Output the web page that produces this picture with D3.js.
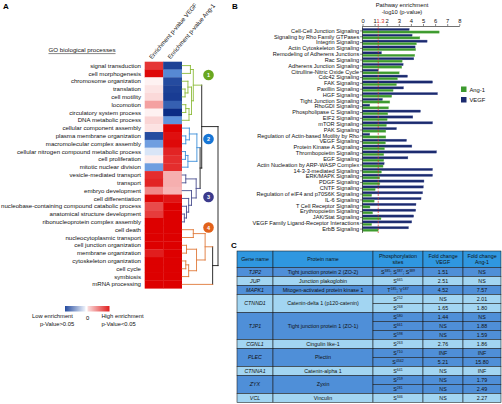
<!DOCTYPE html>
<html><head><meta charset="utf-8">
<script src="https://cdn.jsdelivr.net/npm/d3@7/dist/d3.min.js"></script>
<style>body{margin:0;background:#fff}svg{display:block;font-family:"Liberation Sans",Arial,sans-serif}</style>
</head><body><svg id="c" width="502" height="404"></svg>
<script>
// ---------- Panel A data ----------
const goTerms = ["signal transduction","cell morphogenesis","chromosome organization","translation","cell motility","locomotion","circulatory system process","DNA metabolic process","cellular component assembly","plasma membrane organization","macromolecular complex assembly","cellular nitrogen compound metabolic process","cell proliferation","mitotic nuclear division","vesicle-mediated transport","transport","embryo development","cell differentiation","nucleobase-containing compound catabolic process","anatomical structure development","ribonucleoprotein complex assembly","cell death","nucleocytoplasmic transport","cell junction organization","membrane organization","cytoskeleton organization","cell cycle","symbiosis","mRNA processing"];
const vegfEnrich = [0.82,0.97,0.06,0.13,0.18,0.45,0.06,0.2,0.14,-0.85,-0.45,-0.12,0.09,-0.45,0.85,0.88,0.55,0.98,0.75,0.8,1,1,1,1,0.9,1,1,1,1];
const ang1Enrich = [-0.9,-0.55,-0.85,-0.9,-0.92,-0.75,-1,-0.5,1,0.95,0.97,0.88,0.85,0.85,0.38,0.38,0.35,0.93,1,1,1,1,1,1,1,1,1,1,1];
const heatColumns = ["Enrichment p-value VEGF","Enrichment p-value Ang-1"];
// dendrogram: internal node = [height, childA, childB]; leaf = row index
const treeC1 = [3.1,[2.3,0,1],[2.6,[1.6,2,[0.8,3,4]],[1.9,[1.0,5,6],7]]];
const treeC2 = [4.1,[2.0,8,[1.0,9,10]],[1.6,[0.9,11,12],13]];
const treeC3 = [3.9,[1.0,14,15],[2.6,16,[1.8,17,[1.2,18,[0.6,19,20]]]]];
const treeC4 = [8.5,[6.4,[3.1,21,22],[4.0,[1.2,23,24],[1.8,[1.0,25,26],27]]],28];
const dendroTree = [10,[5.45,treeC1,[5.0,treeC2,treeC3]],treeC4];
const clusterFirstRow = [0,8,14,21];
const clusterLabels = ["1","2","3","4"];
const legendLow = ["Low enrichment","p-Value>0.05"];
const legendHigh = ["High enrichment","p-Value<0.05"];

// ---------- Panel B data ----------
const pathways = ["Cell-Cell Junction Signaling","Signaling by Rho Family GTPases","Integrin Signaling","Actin Cytoskeleton Signaling","Remodeling of Adherens Junctions","Rac Signaling","Adherens Junction Signaling","Citrulline-Nitric Oxide Cycle","Cdc42 Signaling","FAK Signaling","Paxillin Signaling","HGF Signaling","Tight Junction Signaling","RhoGDI Signaling","Phospholipase C Signaling","EIF2 Signaling","mTOR Signaling","PAK Signaling","Regulation of Actin-based Motility by Rho","VEGF Signaling","Protein Kinase A Signaling","Thrombopoietin Signaling","EGF Signaling","Actin Nucleation by ARP-WASP Complex","14-3-3-mediated Signaling","ERK/MAPK Signaling","PDGF Signaling","CNTF Signaling","Regulation of eIF4 and p70S6K Signaling","IL-6 Signaling","T Cell Receptor Signaling","Erythropoietin Signaling","JAK/Stat Signaling","VEGF Family Ligand-Receptor Interactions","ErbB Signaling"];
const vegfBar = [3.86,4.1,5.34,4.35,1.57,4.24,3.36,1.3,3.72,5.79,3.39,6.2,1.65,0.6,4.79,4.16,5.79,2.81,0.6,3.64,4.08,6.12,3.75,1.79,5.79,5.79,5.08,5.03,4.97,4.84,4.42,4.4,4.23,4.07,3.8];
const ang1Bar = [6.34,4.74,4.46,4.4,4.32,3.28,3.25,3.03,2.89,2.81,2.53,2.42,2.26,2.15,2.09,2.04,1.98,1.93,1.93,1.9,1.82,1.76,1.76,1.7,1.57,1.43,1.44,1.05,0.76,0.97,0.62,0.84,1.53,0.76,1.3];
const barSeries = ["VEGF","Ang-1"];
const legendSeries = ["Ang-1","VEGF"];
const barTicks = [0,1,2,3,4,5,6,7,8];
const threshold = 1.3;
const axisTitle = ["Pathway enrichment","-log10 (p-value)"];

// ---------- Panel C data ----------
const tableHeaders = [["Gene name"],["Protein name"],["Phosphorylation","sites"],["Fold change","VEGF"],["Fold change","Ang-1"]];
const geneNames = ["TJP2","JUP","MAPK1","CTNND1","TJP1","CGNL1","PLEC","CTNNA1","ZYX","VCL"];
const proteinNames = ["Tight junction protein 2 (ZO-2)","Junction plakoglobin","Mitogen-activated protein kinase 1","Catenin-delta 1 (p120-catenin)","Tight junction protein 1 (ZO-1)","Cingulin like-1","Plectin","Catenin-alpha 1","Zyxin","Vinculin"];
const geneSiteCounts = [1,1,1,2,3,1,2,1,2,1];
const phosphoSites = ["S385; S387; S389","S665","T185; Y187","S252","S268","S580","S661","S598","S263","S710","S4342","S641","S259","S281","S346"];
const foldVEGF = ["1.51","2.51","4.52","NS","1.65","1.44","NS","NS","2.76","INF","5.21","NS","NS","NS","NS"];
const foldAng1 = ["NS","NS","7.57","2.01","1.80","NS","1.88","1.59","1.86","INF","15.80","INF","1.79","2.49","2.27"];

// ======================================================
const svg = d3.select("#c");
const FONT = "'Liberation Sans',Arial,sans-serif";

// panel letters
[["A",3,9],["B",232,9],["C",231,248]].forEach(([t,x,y])=>{
  svg.append("text").attr("x",x).attr("y",y).attr("font-size",8).attr("font-weight","bold").text(t);
});

// ---------- Panel A ----------
const hx = d3.scaleBand().domain(heatColumns).range([144.7,181.7]);
const hy = d3.scaleBand().domain(d3.range(goTerms.length)).range([61.7,288.3]);
const heatColor = d3.scaleLinear().domain([-1,-0.5,0,0.5,1]).range(["#0c2c85","#5f93dc","#ffffff","#f39696","#dd0000"]);

const gA = svg.append("g");
const title = gA.append("text").attr("x",82).attr("y",52).attr("text-anchor","middle").attr("font-size",6.2).attr("fill","#111").text("GO biological processes");
const tb = title.node().getBBox();
gA.append("line").attr("x1",tb.x).attr("x2",tb.x+tb.width).attr("y1",53.6).attr("y2",53.6).attr("stroke","#111").attr("stroke-width",0.5);

const cells = [];
goTerms.forEach((g,i)=>{ cells.push({c:heatColumns[0],r:i,v:vegfEnrich[i]}); cells.push({c:heatColumns[1],r:i,v:ang1Enrich[i]}); });
gA.selectAll("rect.cell").data(cells).join("rect")
  .attr("x",d=>hx(d.c)).attr("y",d=>hy(d.r)).attr("width",hx.bandwidth()+0.3).attr("height",hy.bandwidth()+0.3)
  .attr("fill",d=>heatColor(d.v));
gA.selectAll("text.go").data(goTerms).join("text")
  .attr("x",141).attr("y",(d,i)=>hy(i)+hy.bandwidth()/2+2.1).attr("text-anchor","end").attr("font-size",6.1).attr("fill","#111").text(d=>d);
gA.selectAll("text.col").data(heatColumns).join("text")
  .attr("transform",d=>`translate(${hx(d)+hx.bandwidth()/2-2},59.5) rotate(-50)`)
  .attr("font-size",6.1).attr("fill","#111").text(d=>d);

// dendrogram
const clusterLine = ["#8dbb3c","#3d8fd9","#4b4f8f","#e0793a"];
const clusterFill = ["#6aa720","#1776d6","#3b3a8c","#e2621b"];
const clusterOf = i => { let c=0; clusterFirstRow.forEach((f,k)=>{ if(i>=f) c=k; }); return c; };
const dx = d3.scaleLinear().domain([0,10]).range([182.2,218]);
const cutHeight = 7;
function lay(n){
  if(typeof n==="number") return {x:dx(0), y:hy(n)+hy.bandwidth()/2, cl:clusterOf(n), kids:[]};
  const a=lay(n[1]), b=lay(n[2]);
  const same = a.cl!==null && a.cl===b.cl && n[0]<cutHeight;
  return {x:dx(n[0]), y:(a.y+b.y)/2, cl: same?a.cl:null, kids:[a,b]};
}
const root = lay(dendroTree);
const segs=[];
(function walk(n){
  if(!n.kids.length) return;
  const col = n.cl===null ? "#1a1a1a" : clusterLine[n.cl];
  segs.push({x1:n.x,x2:n.x,y1:n.kids[0].y,y2:n.kids[1].y,col});
  n.kids.forEach(k=>{
    const kc = k.cl===null ? "#1a1a1a" : clusterLine[k.cl];
    segs.push({x1:k.x,x2:n.x,y1:k.y,y2:k.y,col:kc});
    walk(k);
  });
})(root);
gA.selectAll("line.dend").data(segs).join("line")
  .attr("x1",d=>d.x1).attr("x2",d=>d.x2).attr("y1",d=>d.y1).attr("y2",d=>d.y2)
  .attr("stroke",d=>d.col).attr("stroke-width",0.9).attr("stroke-linecap","square");
const circY = [75,139,197,227.5];
clusterLabels.forEach((t,k)=>{
  gA.append("circle").attr("cx",208.5).attr("cy",circY[k]).attr("r",5.3).attr("fill",clusterFill[k]);
  gA.append("text").attr("x",208.5).attr("y",circY[k]+2).attr("text-anchor","middle").attr("font-size",5.5).attr("fill","#fff").attr("font-weight","bold").text(t);
});

// heat legend
const defs = svg.append("defs");
const gb = defs.append("linearGradient").attr("id","gBlue");
gb.append("stop").attr("offset","0%").attr("stop-color",heatColor(-0.85));
gb.append("stop").attr("offset","100%").attr("stop-color",heatColor(-0.05));
const gr = defs.append("linearGradient").attr("id","gRed");
gr.append("stop").attr("offset","0%").attr("stop-color",heatColor(0.15));
gr.append("stop").attr("offset","100%").attr("stop-color",heatColor(0.9));
gA.append("rect").attr("x",65).attr("y",306).attr("width",20.5).attr("height",5.5).attr("fill","url(#gBlue)");
gA.append("rect").attr("x",87.5).attr("y",306).attr("width",22).attr("height",5.5).attr("fill","url(#gRed)");
gA.append("text").attr("x",87.5).attr("y",319.5).attr("text-anchor","middle").attr("font-size",5.8).text("0");
legendLow.forEach((t,i)=>gA.append("text").attr("x",i?57:52.5).attr("y",317.5+i*8).attr("text-anchor","middle").attr("font-size",5.8).attr("fill","#111").text(t));
legendHigh.forEach((t,i)=>gA.append("text").attr("x",i?118.5:122.5).attr("y",317.5+i*8).attr("text-anchor","middle").attr("font-size",5.8).attr("fill","#111").text(t));

// ---------- Panel B ----------
const gB = svg.append("g");
const bx = d3.scaleLinear().domain([0,8]).range([362.5,459.3]);
const by = d3.scaleBand().domain(pathways).range([28,232]);
const sub = d3.scaleBand().domain(barSeries).range([0.4,by.bandwidth()-0.6]).paddingInner(0.08);
const barColor = {"VEGF":"#1b2a6e","Ang-1":"#3d9a2f"};
const barStroke = {"VEGF":"#4d5b9a","Ang-1":"#7fc06a"};
const barData = [];
pathways.forEach((p,i)=>{ barData.push({p,s:"VEGF",v:vegfBar[i]}); barData.push({p,s:"Ang-1",v:ang1Bar[i]}); });
gB.selectAll("rect.bar").data(barData).join("rect")
  .attr("x",bx(0)).attr("y",d=>by(d.p)+sub(d.s)).attr("width",d=>bx(d.v)-bx(0)).attr("height",sub.bandwidth())
  .attr("fill",d=>barColor[d.s]).attr("stroke",d=>barStroke[d.s]).attr("stroke-width",0.35);

const yAx = gB.append("g").attr("transform",`translate(${bx(0)},0)`).call(d3.axisLeft(by).tickSize(2.5).tickSizeOuter(0).tickPadding(0.8));
yAx.selectAll("text").attr("font-size",5.6).attr("font-family",FONT).attr("fill","#111");
yAx.selectAll("line").attr("stroke","#111").attr("stroke-width",0.5);
yAx.select(".domain").attr("d",`M0,26V233`).attr("stroke","#111").attr("stroke-width",0.6);

const xAx = gB.append("g").attr("transform","translate(0,26)").call(d3.axisTop(bx).tickValues(barTicks).tickSize(2).tickSizeOuter(0).tickPadding(1).tickFormat(d3.format("d")));
xAx.selectAll("text").attr("font-size",5.8).attr("font-family",FONT).attr("fill","#111");
xAx.selectAll("line").attr("stroke","#111").attr("stroke-width",0.5);
xAx.select(".domain").attr("stroke","#111").attr("stroke-width",0.6);
gB.append("text").attr("x",bx(threshold)-1.8).attr("y",23).attr("font-size",5.8).attr("fill","#e0302a").text(String(threshold));
gB.append("line").attr("x1",bx(threshold)).attr("x2",bx(threshold)).attr("y1",24).attr("y2",233)
  .attr("stroke","#e0302a").attr("stroke-width",0.7).attr("stroke-dasharray","2,1.4");
axisTitle.forEach((t,i)=>gB.append("text").attr("x",402).attr("y",7+i*7).attr("text-anchor","middle").attr("font-size",5.8).attr("fill","#111").text(t));
legendSeries.forEach((s,i)=>{
  gB.append("rect").attr("x",461).attr("y",86.5+i*10.5).attr("width",5.5).attr("height",5.5).attr("fill",barColor[s]);
  gB.append("text").attr("x",469.5).attr("y",91.5+i*10.5).attr("font-size",5.8).attr("fill","#111").text(s);
});

// ---------- Panel C ----------
const gC = svg.append("g");
const colX = [237,273,373,423,463,501];
const headTop = 251, headBot = 267.5, rowH = 9;
const cHead = "#2f97e0", cDark = "#4f8fd8", cLight = "#a2d5f2", cLine = "#1a1a1a";
const tFS = 5.3;
function cell(x0,x1,y0,y1,fill){
  gC.append("rect").attr("x",x0).attr("y",y0).attr("width",x1-x0).attr("height",y1-y0).attr("fill",fill).attr("stroke",cLine).attr("stroke-width",0.55);
}
function ctext(x,y,t,italic){
  return gC.append("text").attr("x",x).attr("y",y).attr("text-anchor","middle").attr("font-size",tFS).attr("fill","#111").attr("font-style",italic?"italic":null).text(t);
}
tableHeaders.forEach((h,j)=>{
  cell(colX[j],colX[j+1],headTop,headBot,cHead);
  const cx=(colX[j]+colX[j+1])/2, cy=(headTop+headBot)/2;
  h.forEach((t,k)=>ctext(cx, cy+1.9+(k-(h.length-1)/2)*5.6, t));
});
let r=0;
geneNames.forEach((g,gi)=>{
  const n=geneSiteCounts[gi];
  const fill = gi%2===0 ? cDark : cLight;
  const y0=headBot+r*rowH, y1=y0+n*rowH, ym=(y0+y1)/2;
  cell(colX[0],colX[1],y0,y1,fill); ctext((colX[0]+colX[1])/2, ym+1.9, g, true);
  cell(colX[1],colX[2],y0,y1,fill); ctext((colX[1]+colX[2])/2, ym+1.9, proteinNames[gi]);
  for(let k=0;k<n;k++){
    const ri=r+k, a=headBot+ri*rowH, b=a+rowH, m=(a+b)/2+1.9;
    cell(colX[2],colX[3],a,b,fill);
    const t = gC.append("text").attr("x",(colX[2]+colX[3])/2).attr("y",m).attr("text-anchor","middle").attr("font-size",tFS).attr("fill","#111");
    const parts = phosphoSites[ri].split(/(\d+)/).filter(p=>p.length);
    let up=false;
    parts.forEach(p=>{
      if(/^\d+$/.test(p)){ t.append("tspan").attr("font-size",3.5).attr("dy",-1.9).text(p); up=true; }
      else { const ts=t.append("tspan").text(p); if(up){ ts.attr("dy",1.9); up=false; } }
    });
    cell(colX[3],colX[4],a,b,fill); ctext((colX[3]+colX[4])/2, m, foldVEGF[ri]);
    cell(colX[4],colX[5],a,b,fill); ctext((colX[4]+colX[5])/2, m, foldAng1[ri]);
  }
  r+=n;
});
</script></body></html>
